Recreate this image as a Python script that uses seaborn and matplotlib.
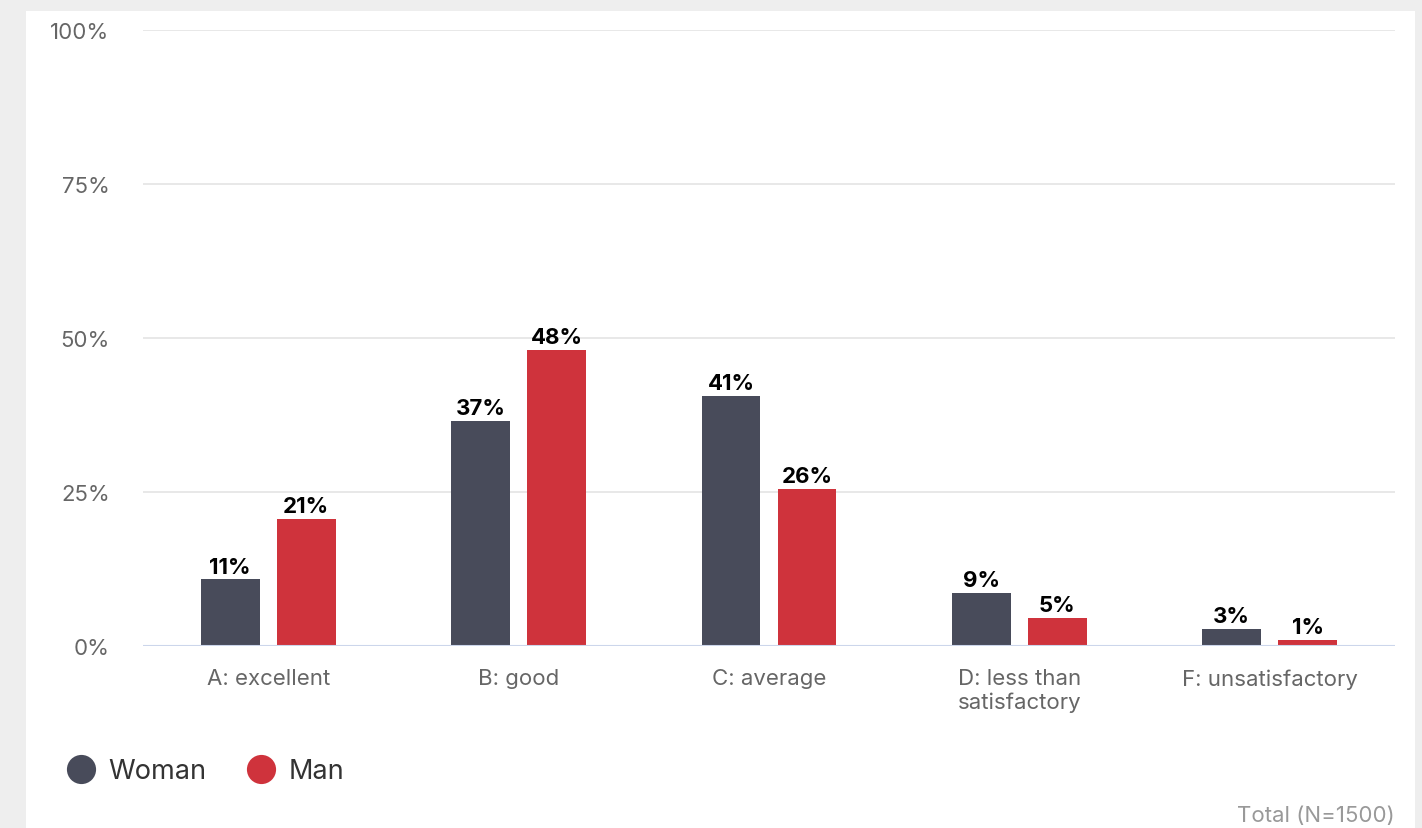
import matplotlib
matplotlib.use("Agg")
import matplotlib.pyplot as plt
import seaborn as sns
import pandas as pd
from matplotlib.patches import Rectangle
from matplotlib.lines import Line2D

categories = ["A: excellent", "B: good", "C: average", "D: less than\nsatisfactory", "F: unsatisfactory"]
woman = [10.8, 36.6, 40.6, 8.6, 2.8]
man = [20.6, 48.1, 25.5, 4.6, 1.0]
series = ["Woman", "Man"]
colors = ["#484b5a", "#cf333c"]
yticks = [0, 25, 50, 75, 100]
ytick_labels = ["0%", "25%", "50%", "75%", "100%"]

df = pd.DataFrame({
    "category": categories * 2,
    "value": woman + man,
    "series": ["Woman"] * len(categories) + ["Man"] * len(categories),
})

sns.set_theme(style="white")
plt.rcParams["font.family"] = ["Inter", "DejaVu Sans"]

fig = plt.figure(figsize=(14.22, 8.29), dpi=100)
fig.patch.set_facecolor("#eeeeee")
card = Rectangle((26 / 1422, 0), (1415 - 26) / 1422, 1 - 12 / 829,
                 transform=fig.transFigure, facecolor="white",
                 edgecolor="none", zorder=-10)
fig.patches.append(card)

ax = fig.add_axes([143 / 1422, 1 - 647 / 829, (1395 - 143) / 1422, (647 - 31) / 829])
ax.set_zorder(1)
ax.set_facecolor("none")

sns.barplot(data=df, x="category", y="value", hue="series", order=categories,
            hue_order=series, palette=colors, width=0.607, gap=0.224,
            saturation=1, ax=ax, legend=False, edgecolor="none", zorder=3)

ax.set_xlim(-0.5, len(categories) - 0.5)
ax.set_ylim(0, 100)
ax.set_yticks(yticks)
ax.set_yticklabels(ytick_labels)
ax.set_xlabel("")
ax.set_ylabel("")
for s in ax.spines.values():
    s.set_visible(False)
ax.grid(axis="y", color="#e6e6e6", linewidth=1.3, zorder=0)
ax.grid(axis="x", visible=False)
ax.axhline(0, color="#ccd6eb", linewidth=1.5, zorder=4)
ax.tick_params(axis="y", length=0, pad=24, labelsize=16, labelcolor="#666666")
ax.tick_params(axis="x", length=0, pad=16, labelsize=16, labelcolor="#666666")

for cont in ax.containers:
    labels = [f"{round(v.get_height()):d}%" for v in cont]
    ax.bar_label(cont, labels=labels, padding=2, fontsize=16, fontweight="bold",
                 color="#000000", zorder=5)

handles = [Line2D([0], [0], marker="o", linestyle="none", markersize=21,
                  markerfacecolor=c, markeredgecolor="none") for c in colors]
fig.legend(handles, series, loc="center left", bbox_to_anchor=(43 / 1422, 1 - 772 / 829),
           ncol=2, frameon=False, fontsize=19.5, handletextpad=0.5, columnspacing=1.53,
           labelcolor="#333333", handlelength=1.0)

fig.text(1395 / 1422, 1 - 816 / 829, "Total (N=1500)", ha="right", va="center",
         fontsize=16, color="#999999")

fig.savefig("out.png", dpi=100, facecolor=fig.get_facecolor())
